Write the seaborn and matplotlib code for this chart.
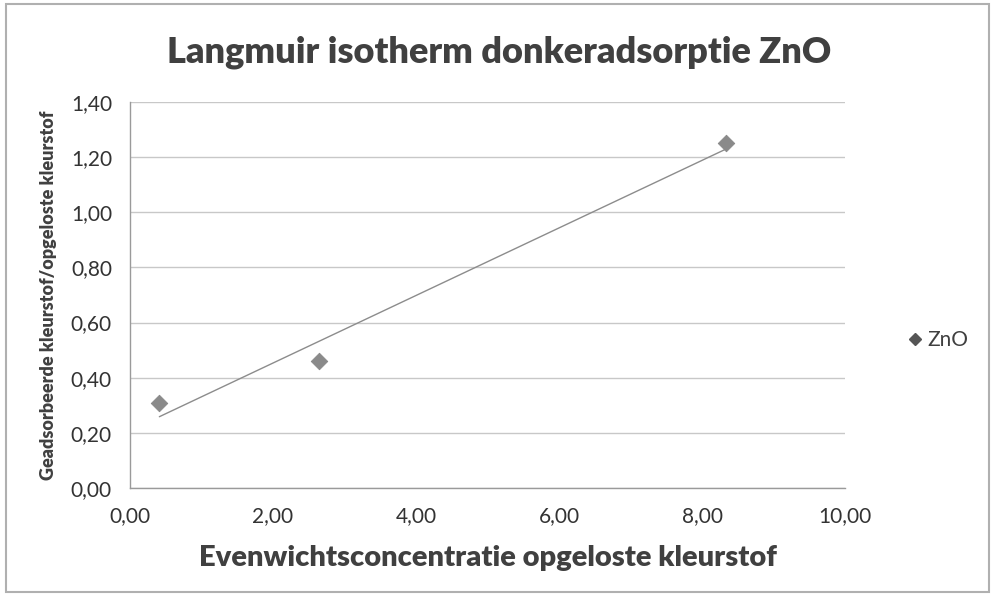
import numpy as np
import pandas as pd
import matplotlib
matplotlib.use('Agg')
import matplotlib.pyplot as plt
from matplotlib.patches import Rectangle
from matplotlib.lines import Line2D
import seaborn as sns

# Data
conc = [0.41, 2.64, 8.34]
ratio = [0.31, 0.46, 1.25]
series = 'ZnO'

x_ticks = [0, 2, 4, 6, 8, 10]
y_ticks = [0, 0.2, 0.4, 0.6, 0.8, 1.0, 1.2, 1.4]

df = pd.DataFrame({'x': conc, 'y': ratio})

sns.set_style('white')
plt.rcParams['font.family'] = ['Lato', 'DejaVu Sans']

fig = plt.figure(figsize=(9.95, 5.97), dpi=100)
ax = fig.add_axes([0.1307, 0.1826, 0.7186, 0.6466])

# Linear trendline (Excel style) over the data range
sns.regplot(data=df, x='x', y='y', ax=ax, scatter=False, ci=None,
            line_kws={'color': '#8c8c8c', 'lw': 1.0})
sns.scatterplot(data=df, x='x', y='y', ax=ax, marker='D', s=70,
                color='#8a8a8a', edgecolor='#8a8a8a', zorder=5)

ax.set_xlim(0, 10)
ax.set_ylim(0, 1.4)
ax.set_xticks(x_ticks)
ax.set_yticks(y_ticks)
ax.set_xticklabels([f'{v:.2f}'.replace('.', ',') for v in x_ticks], fontsize=15, color='#333333')
ax.set_yticklabels([f'{v:.2f}'.replace('.', ',') for v in y_ticks], fontsize=15, color='#333333')
ax.grid(axis='y', color='#c8c8c8', lw=1.0)
ax.set_axisbelow(True)
for s in ['top', 'right']:
    ax.spines[s].set_visible(False)
for s in ['left', 'bottom']:
    ax.spines[s].set_color('#9a9a9a')
    ax.spines[s].set_linewidth(1.0)
ax.tick_params(axis='both', which='both', direction='out', length=5, color='#9a9a9a', pad=8)

ax.set_xlabel('Evenwichtsconcentratie opgeloste kleurstof', fontsize=21,
              fontweight='heavy', color='#404040', labelpad=14)
ax.set_ylabel('Geadsorbeerde kleurstof/opgeloste kleurstof', fontsize=13,
              fontweight='heavy', color='#404040', labelpad=10)
fig.suptitle('Langmuir isotherm donkeradsorptie ZnO', x=0.502, y=0.94,
             fontsize=26, fontweight='heavy', color='#404040')

handle = Line2D([], [], marker='D', ls='none', color='#555555', markersize=6)
fig.legend([handle], [series], loc='center left', bbox_to_anchor=(0.89, 0.43),
           frameon=False, fontsize=15, handletextpad=0.1, handlelength=1.0,
           labelcolor='#404040')

fig.add_artist(Rectangle((0.006, 0.008), 0.988, 0.985, transform=fig.transFigure,
                         fill=False, edgecolor='#b0b0b0', lw=1.5))

fig.savefig('out.png', dpi=100)
